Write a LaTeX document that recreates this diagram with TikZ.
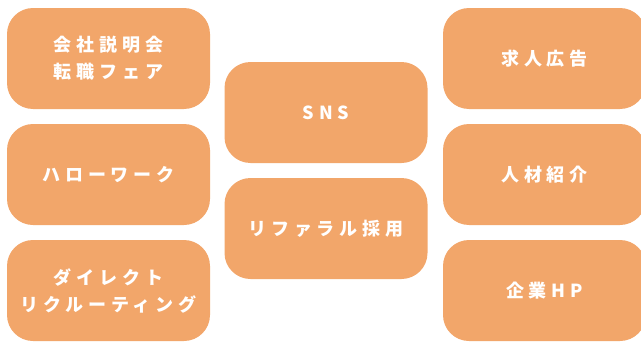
\documentclass[tikz,border=0pt]{standalone}
\usepackage{fontspec}
\newfontfamily\jpfont[LetterSpace=27]{Noto Sans CJK JP Black}
\definecolor{boxfill}{RGB}{242,166,106}
\begin{document}
\begin{tikzpicture}[x=1pt,y=-1pt,
  card/.style={fill=boxfill, rounded corners=26pt, inner sep=0pt, minimum width=203pt, minimum height=101pt, text=white, font=\jpfont\fontsize{18}{27}\selectfont, align=center}]
\useasboundingbox (0,0) rectangle (641,343);
\node[card] (a) at (108.5,58.5) {会社説明会\\転職フェア};
\node[card] (b) at (108.5,174.5) {ハローワーク};
\node[card] (c) at (108.5,290.5) {ダイレクト\\リクルーティング};
\node[card] (d) at (326,112.5) {SNS};
\node[card] (e) at (326,228.5) {リファラル採用};
\node[card] (f) at (544.5,58.5) {求人広告};
\node[card] (g) at (544.5,174.5) {人材紹介};
\node[card] (h) at (544.5,290.5) {企業HP};
\end{tikzpicture}
\end{document}
